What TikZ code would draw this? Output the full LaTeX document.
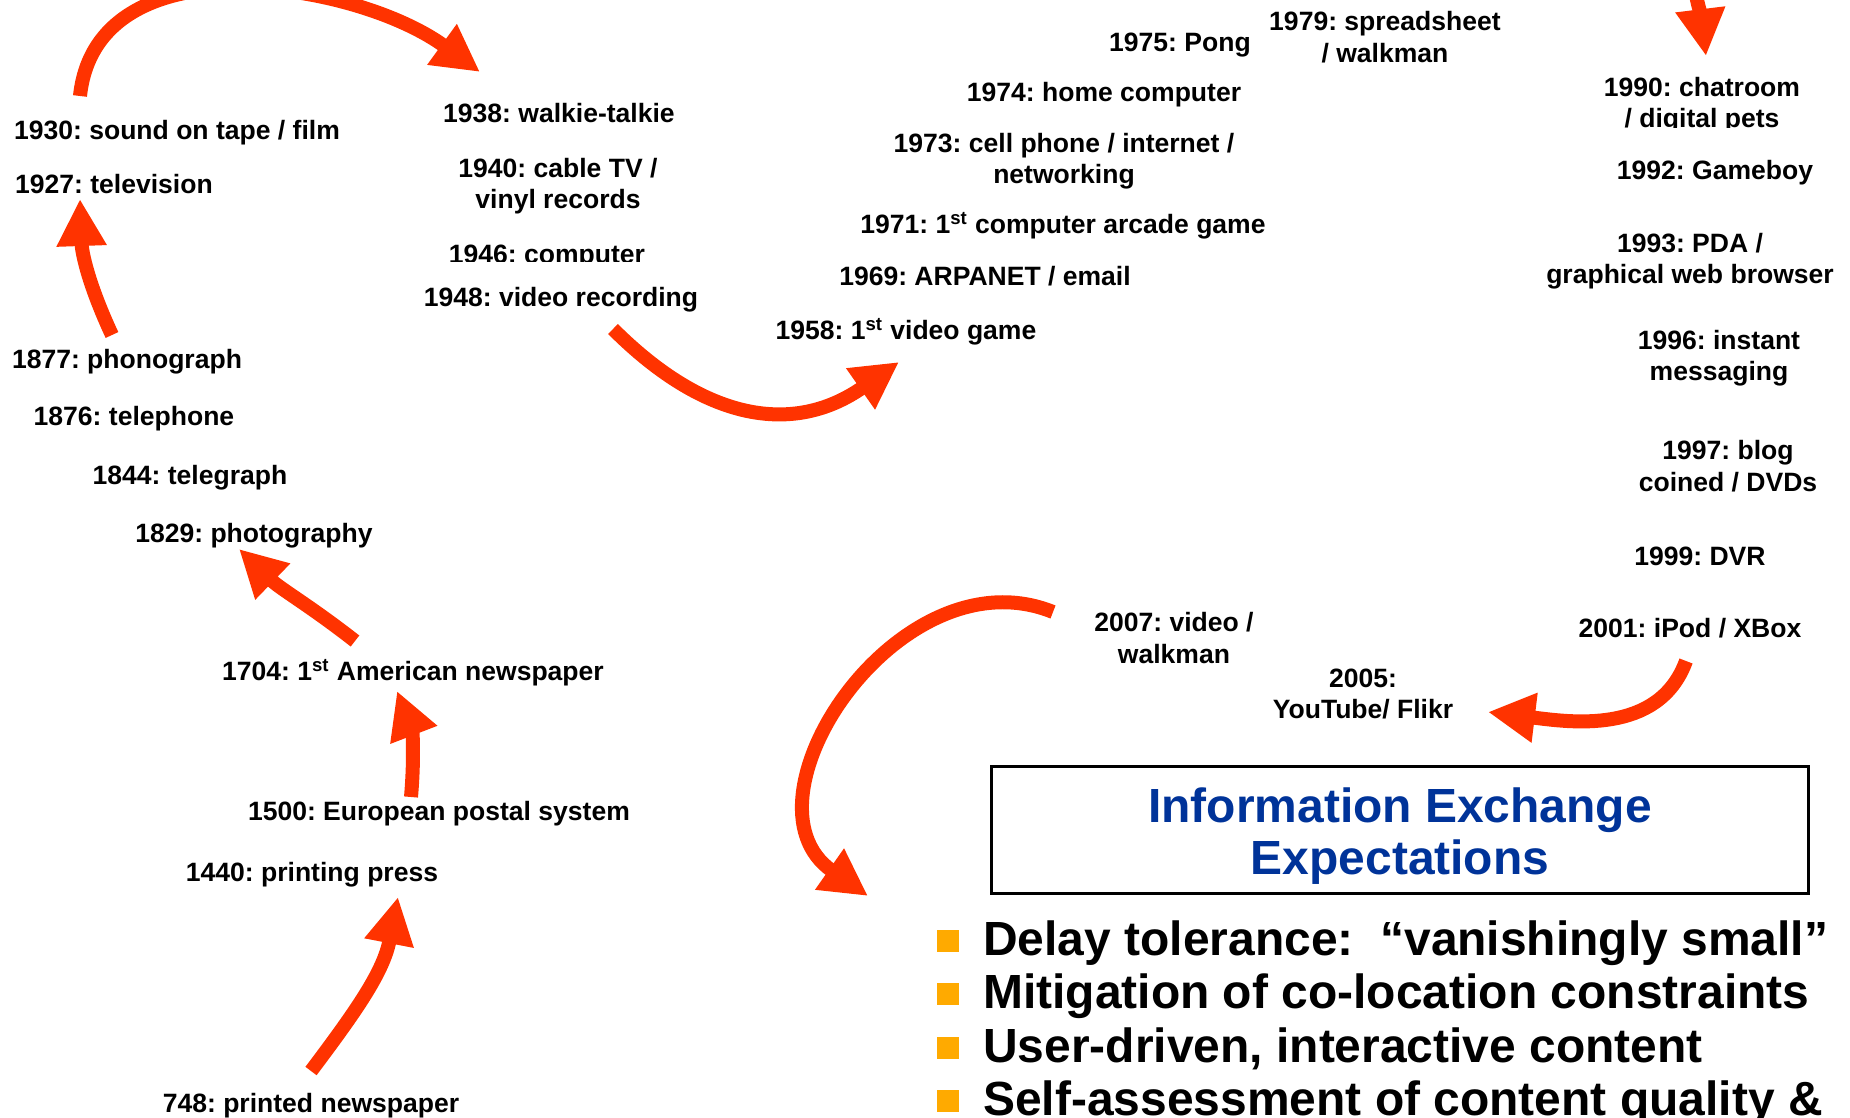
\documentclass[tikz,border=0pt]{standalone}
\usepackage{fontspec}
\setmainfont{Liberation Sans}
\frenchspacing
\usetikzlibrary{arrows.meta,positioning}

\definecolor{arrowred}{RGB}{255,51,0}
\definecolor{titleblue}{RGB}{0,51,153}
\definecolor{bulletorange}{RGB}{255,170,0}

\tikzset{
  evt/.style={font=\fontsize{15.1}{17.9}\selectfont\bfseries, align=center, inner sep=0pt},
  flow/.style={draw=arrowred, line width=0.28cm, -{Triangle[length=0.94cm,width=0.94cm]}},
  bulletsq/.style={fill=bulletorange, minimum size=0.44cm, inner sep=0pt},
  bullettext/.style={font=\fontsize{27.3}{30}\selectfont\bfseries, inner sep=0pt,
                     text height=0.72cm, text depth=0.16cm},
}

\begin{document}
\begin{tikzpicture}[x=0.02cm,y=0.02cm]
    \useasboundingbox (0,0) rectangle (1850,-1118);
    \clip (0,0) rectangle (1850,-1118);

    %% left column, bottom to top
    \node[evt] (n748)  at (311,-1106) {748: printed newspaper};
    \node[evt] (n1440) at (312,-875) {1440: printing press};
    \node[evt] (n1500) at (439,-814) {1500: European postal system};
    \node[evt] (n1704) at (413,-673) {1704: 1\textsuperscript{st} American newspaper};
    \node[evt] (n1829) at (254,-536) {1829: photography};
    \node[evt] (n1844) at (190,-478) {1844: telegraph};
    \node[evt] (n1876) at (134,-419) {1876: telephone};
    \node[evt] (n1877) at (127,-362) {1877: phonograph};
    \node[evt] (n1927) at (114,-184) {1927: television};
    \node[evt] (n1930) at (177,-133) {1930: sound on tape / film};

    %% middle column
    \node[evt] (n1938) at (559,-113) {1938: walkie-talkie};
    \node[evt] (n1940) at (558,-186) {1940: cable TV /\\vinyl records};
    \node[evt] (n1946) at (547,-257) {1946: computer};
    \node[evt, fill=white, text height=0.89cm, anchor=base] (n1948) at (561,-306.5) {1948: video recording};
    \node[evt] (n1958) at (906,-332) {1958: 1\textsuperscript{st} video game};
    \node[evt] (n1969) at (985,-276) {1969: ARPANET / email};
    \node[evt] (n1971) at (1063,-226) {1971: 1\textsuperscript{st} computer arcade game};
    \node[evt] (n1973) at (1064,-161) {1973: cell phone / internet /\\networking};
    \node[evt] (n1974) at (1104,-95) {1974: home computer};
    \node[evt] (n1975) at (1180,-45) {1975: Pong};
    \node[evt] (n1979) at (1385,-37) {1979: spreadsheet\\/ walkman};

    %% right column, top to bottom
    \node[evt] (n1990) at (1702,-105) {1990: chatroom\\/ digital pets};
    \node[evt, fill=white, text height=1.03cm, anchor=base] (n1992) at (1715,-179.5) {1992: Gameboy};
    \node[evt] (n1993) at (1690,-261) {1993: PDA /\\graphical web browser};
    \node[evt] (n1996) at (1719,-358) {1996: instant\\messaging};
    \node[evt] (n1997) at (1728,-466) {1997: blog\\coined / DVDs};
    \node[evt] (n1999) at (1700,-556) {1999: DVR};
    \node[evt] (n2001) at (1690,-628) {2001: iPod / XBox};
    \node[evt] (n2005) at (1363,-694) {2005:\\YouTube/ Flikr};
    \node[evt] (n2007) at (1174,-638) {2007: video /\\walkman};

    %% expectations
    \node[draw, line width=0.06cm, minimum width=16.34cm, minimum height=2.56cm] (xbox) at (1400,-830) {};
    \node[align=center, inner sep=0pt, text=titleblue, font=\fontsize{27.3}{29.6}\selectfont\bfseries]
          (xtitle) at ([yshift=-0.13cm]xbox.center) {Information Exchange\\Expectations};

    \node[bulletsq] (q1) at (947.5,-941) {};
    \node[bulletsq] (q2) at (947.5,-994) {};
    \node[bulletsq] (q3) at (947.5,-1048) {};
    \node[bulletsq] (q4) at (947.5,-1101) {};
    \node[bullettext, right=0.48cm of q1] (b1) {Delay tolerance:\ \ “vanishingly small”};
    \node[bullettext, right=0.48cm of q2] (b2) {Mitigation of co-location constraints};
    \node[bullettext, right=0.48cm of q3] (b3) {User-driven, interactive content};
    \node[bullettext, right=0.48cm of q4] (b4) {Self-assessment of content quality \&};

    %% the time line arrows
    \draw[flow] ([shift={(0,35)}]n748.center) to [out=53,in=259] ([shift={(86,-22)}]n1440.center);
    \draw[flow] ([shift={(-28,17)}]n1500.center) to [out=85,in=291] ([shift={(-16,-18)}]n1704.center);
    \draw[flow] ([shift={(-58,32)}]n1704.center) to [out=142,in=316] ([shift={(-15,-13)}]n1829.center);
    \draw[flow] ([shift={(-15,27)}]n1877.center) to [out=115,in=272] ([shift={(-34,-15)}]n1927.center);
    \draw[flow] ([shift={(-97,37)}]n1930.center) to [out=84,in=144] ([shift={(-79,41)}]n1938.center);
    \draw[flow] ([shift={(52,-22.5)}]n1948.base) to [out=315,in=215,looseness=1.15] ([shift={(-7,-30)}]n1958.center);

    \coordinate (top1990) at (1690,45);
    \draw[flow] (top1990) to [out=-84,in=97] ([shift={(4,49)}]n1990.center);

    \draw[flow] ([shift={(-4,-33)}]n2001.center) to [out=250,in=353] ([shift={(125,-18)}]n2005.center);
    \draw[flow] ([shift={(-121,26)}]n2007.center) to [out=158,in=145,looseness=1.25] ([shift={(-79.5,45)}]q1.center);
\end{tikzpicture}
\end{document}
